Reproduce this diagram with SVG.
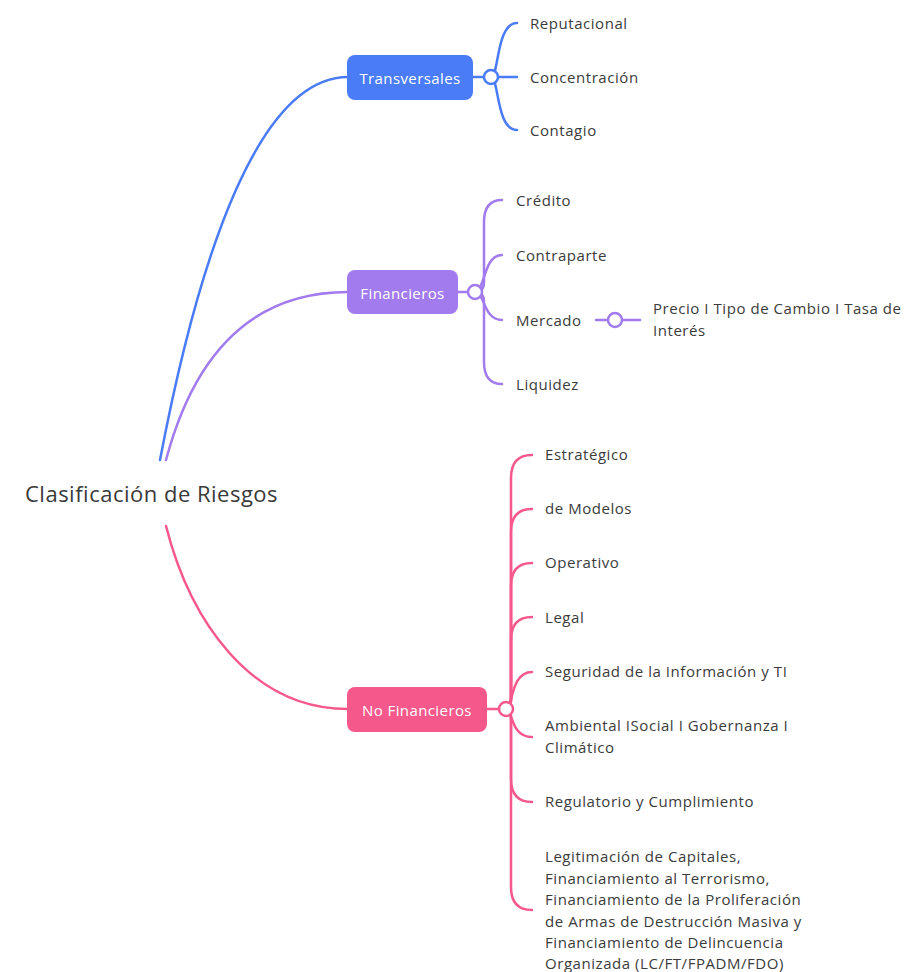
<svg xmlns="http://www.w3.org/2000/svg" width="912" height="972" viewBox="0 0 912 972">
<style>
.t{font-family:"Open Sans","Liberation Sans",sans-serif;font-size:15px;letter-spacing:0.55px;fill:#3b3b3b;dominant-baseline:central}
.n{font-family:"Open Sans","Liberation Sans",sans-serif;font-size:15px;letter-spacing:0.4px;fill:#ffffff;dominant-baseline:central;text-anchor:middle}
.title{font-family:"Open Sans","Liberation Sans",sans-serif;font-size:22px;letter-spacing:0.5px;fill:#3a3a3a;dominant-baseline:central}
.c{fill:none;stroke-width:2.5;stroke-linecap:round}
.blue{stroke:#497CF6}.purple{stroke:#A27BEF}.pink{stroke:#F5588A}
.j{fill:#ffffff;stroke-width:2.5}
</style>
<rect width="912" height="972" fill="#ffffff"/>
<g id="connectors">
<path class="c blue" d="M160,460 C200,250 260,77 348,77"/>
<path class="c purple" d="M166,460 C190,370 240,292 348,292"/>
<path class="c pink" d="M166,526 C190,620 250,709 348,709"/>
<path class="c blue" d="M473,77 L484,77"/>
<path class="c blue" d="M491,77 C499,77 496,23 517,23"/>
<path class="c blue" d="M498,77 L517,77"/>
<path class="c blue" d="M491,77 C499,77 496,130 517,130"/>
<path class="c purple" d="M458,292 L468,292"/>
<path class="c purple" d="M475,292 Q484,292 484,282 L484,222 C484,207 490,200 502,200"/>
<path class="c purple" d="M475,292 C485,292 483,255 502,255"/>
<path class="c purple" d="M475,292 C485,292 483,320 502,320"/>
<path class="c purple" d="M475,292 Q484,292 484,302 L484,362 C484,377 490,384 502,384"/>
<path class="c purple" d="M596,320 L608,320 M622,320 L640,320"/>
<path class="c pink" d="M487,709 L499,709"/>
<path class="c pink" d="M506,709 Q511,709 511,699 L511,478 C511,463 518,455 532,455"/>
<path class="c pink" d="M506,709 Q511,709 511,699 L511,532 C511,517 518,509 532,509"/>
<path class="c pink" d="M506,709 Q511,709 511,699 L511,586 C511,571 518,563 532,563"/>
<path class="c pink" d="M506,709 Q511,709 511,699 L511,640 C511,625 518,617 532,617"/>
<path class="c pink" d="M506,709 C513,709 510,672 532,672"/>
<path class="c pink" d="M506,709 C513,709 510,737 532,737"/>
<path class="c pink" d="M506,709 Q511,709 511,719 L511,779 C511,794 518,802 532,802"/>
<path class="c pink" d="M506,709 Q511,709 511,719 L511,887 C511,902 518,910 532,910"/>
</g>
<g id="root"><text class="title" x="25" y="493">Clasificación de Riesgos</text></g>
<g id="transversales">
<rect x="347" y="55" width="126" height="45" rx="8" fill="#497CF6"/>
<text class="n" x="410" y="77.5">Transversales</text>
<circle class="j blue" cx="491" cy="77" r="7"/>
</g>
<g id="reputacional"><text class="t" x="530" y="23">Reputacional</text></g>
<g id="concentracion"><text class="t" x="530" y="77">Concentración</text></g>
<g id="contagio"><text class="t" x="530" y="130">Contagio</text></g>
<g id="financieros">
<rect x="347" y="270" width="111" height="44" rx="8" fill="#A27BEF"/>
<text class="n" x="402.5" y="292.5">Financieros</text>
<circle class="j purple" cx="475" cy="292" r="7"/>
</g>
<g id="credito"><text class="t" x="516" y="200">Crédito</text></g>
<g id="contraparte"><text class="t" x="516" y="255">Contraparte</text></g>
<g id="mercado"><text class="t" x="516" y="320">Mercado</text><circle class="j purple" cx="615" cy="320" r="7"/></g>
<g id="precio"><text class="t" x="653" y="308">Precio I Tipo de Cambio I Tasa de</text><text class="t" x="653" y="330">Interés</text></g>
<g id="liquidez"><text class="t" x="516" y="384">Liquidez</text></g>
<g id="nofinancieros">
<rect x="347" y="687" width="140" height="45" rx="8" fill="#F5588A"/>
<text class="n" x="417" y="709.5">No Financieros</text>
<circle class="j pink" cx="506" cy="709" r="7"/>
</g>
<g id="estrategico"><text class="t" x="545" y="454">Estratégico</text></g>
<g id="modelos"><text class="t" x="545" y="508">de Modelos</text></g>
<g id="operativo"><text class="t" x="545" y="562">Operativo</text></g>
<g id="legal"><text class="t" x="545" y="617">Legal</text></g>
<g id="seguridad"><text class="t" x="545" y="671">Seguridad de la Información y TI</text></g>
<g id="ambiental"><text class="t" x="545" y="725">Ambiental ISocial I Gobernanza I</text><text class="t" x="545" y="747">Climático</text></g>
<g id="regulatorio"><text class="t" x="545" y="801">Regulatorio y Cumplimiento</text></g>
<g id="legitimacion">
<text class="t" x="545" y="856">Legitimación de Capitales,</text>
<text class="t" x="545" y="877.5">Financiamiento al Terrorismo,</text>
<text class="t" x="545" y="899">Financiamiento de la Proliferación</text>
<text class="t" x="545" y="920.5">de Armas de Destrucción Masiva y</text>
<text class="t" x="545" y="942">Financiamiento de Delincuencia</text>
<text class="t" x="545" y="963">Organizada (LC/FT/FPADM/FDO)</text>
</g>
</svg>
